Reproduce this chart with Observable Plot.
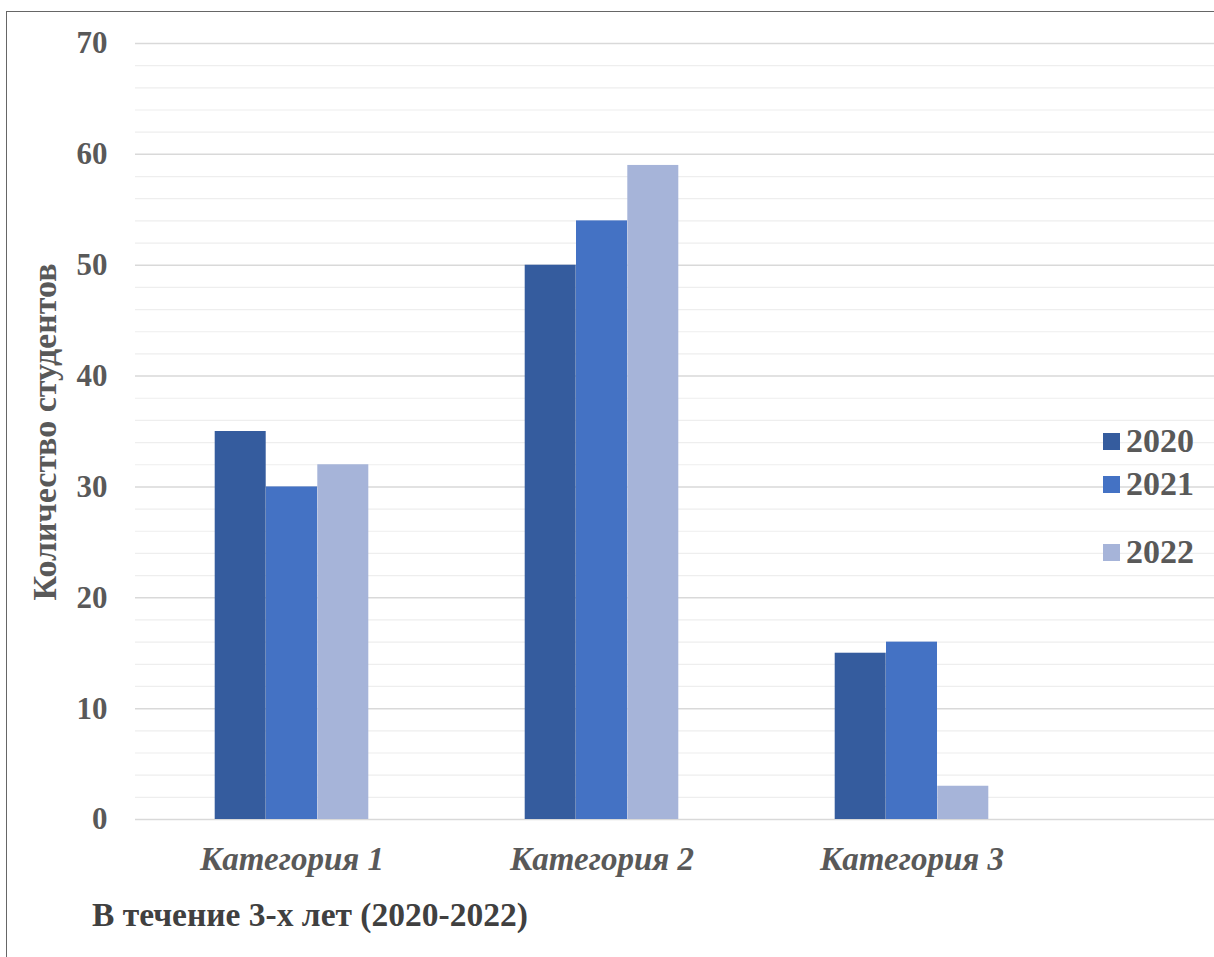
<!DOCTYPE html>
<html>
<head>
<meta charset="utf-8">
<script src="https://cdn.jsdelivr.net/npm/d3@7"></script>
<script src="https://cdn.jsdelivr.net/npm/@observablehq/plot@0.6"></script>
<style>
  html, body { margin: 0; padding: 0; background: #fff; overflow: hidden; }
  #wrap { position: relative; width: 1214px; height: 957px; }
  #frame { position: absolute; left: 6px; top: 11px; width: 1220px; height: 960px; border: 1.5px solid #666; box-sizing: border-box; }
  #chart { position: absolute; left: 0; top: 0; }
  #chart svg text { font-family: "Liberation Serif", "Times New Roman", serif; font-weight: bold; }
  .lbl { position: absolute; font-family: "Liberation Serif", "Times New Roman", serif; font-weight: bold; color: #595959; white-space: nowrap; line-height: 1; }
  #ylabel { left: 45px; top: 432px; font-size: 34px; transform: translate(-50%, -50%) rotate(-90deg); }
  #caption { left: 92px; top: 915px; font-size: 33.5px; color: #404040; transform: translateY(-50%); }
  #legend { position: absolute; left: 1103px; top: 0; }
  .item { position: absolute; left: 0; display: flex; align-items: center; transform: translateY(-50%); font-family: "Liberation Serif", serif; font-weight: bold; font-size: 34px; color: #595959; line-height: 1; }
  .sw { width: 17px; height: 17px; margin-right: 6px; }
</style>
</head>
<body>
<div id="wrap">
  <div id="frame"></div>
  <div id="chart"></div>
  <div class="lbl" id="ylabel">Количество студентов</div>
  <div class="lbl" id="caption">В течение 3-х лет (2020-2022)</div>
  <div id="legend"></div>
</div>
<script>
const categories = ["Категория 1", "Категория 2", "Категория 3"];
const years = ["2020", "2021", "2022"];
const values2020 = [35, 50, 15];
const values2021 = [30, 54, 16];
const values2022 = [32, 59, 3];
const colors = ["#355c9e", "#4472c4", "#a6b4d9"];
const yTicks = [0, 10, 20, 30, 40, 50, 60, 70];
const minorTicks = d3.range(0, 71, 2).filter(v => v % 10 !== 0);
const legendY = [441, 484, 552];

const series = [values2020, values2021, values2022];
const data = [];
years.forEach((yr, i) => categories.forEach((c, j) => data.push({year: yr, category: c, value: series[i][j]})));

const bw = 51.3;
const W = 1214, H = 957;
const plot = Plot.plot({
  width: W, height: H,
  marginLeft: 135, marginRight: 0, marginTop: 43, marginBottom: 138,
  style: {background: "transparent", fontFamily: "Liberation Serif, serif"},
  x: {domain: categories, range: [135.5, 1067], paddingInner: 1 - bw / 310.5, paddingOuter: (1 - bw / 310.5) / 2, label: null},
  y: {domain: [0, 70], label: null},
  marks: [
    Plot.ruleY(minorTicks, {stroke: "#eeeeee", strokeWidth: 1.2}),
    Plot.ruleY(yTicks, {stroke: "#d9d9d9", strokeWidth: 1.5}),
    ...years.map((yr, i) => Plot.barY(data.filter(d => d.year === yr), {
      x: "category", y: "value", fill: colors[i], dx: (i - 1) * bw, inset: 0
    })),
    Plot.axisY({ticks: yTicks, tickSize: 0, tickPadding: 28, tickFormat: d => String(d), fontSize: 31, fontWeight: "bold", fill: "#595959", label: null}),
    Plot.axisX({tickSize: 0, tickPadding: 27, fontSize: 33, fontWeight: "bold", fontStyle: "italic", fill: "#595959", label: null})
  ]
});
document.getElementById("chart").appendChild(plot);

const legend = document.getElementById("legend");
years.forEach((yr, i) => {
  const it = document.createElement("div");
  it.className = "item";
  it.style.top = legendY[i] + "px";
  it.innerHTML = `<div class="sw" style="background:${colors[i]}"></div><span>${yr}</span>`;
  legend.appendChild(it);
});
</script>
</body>
</html>
